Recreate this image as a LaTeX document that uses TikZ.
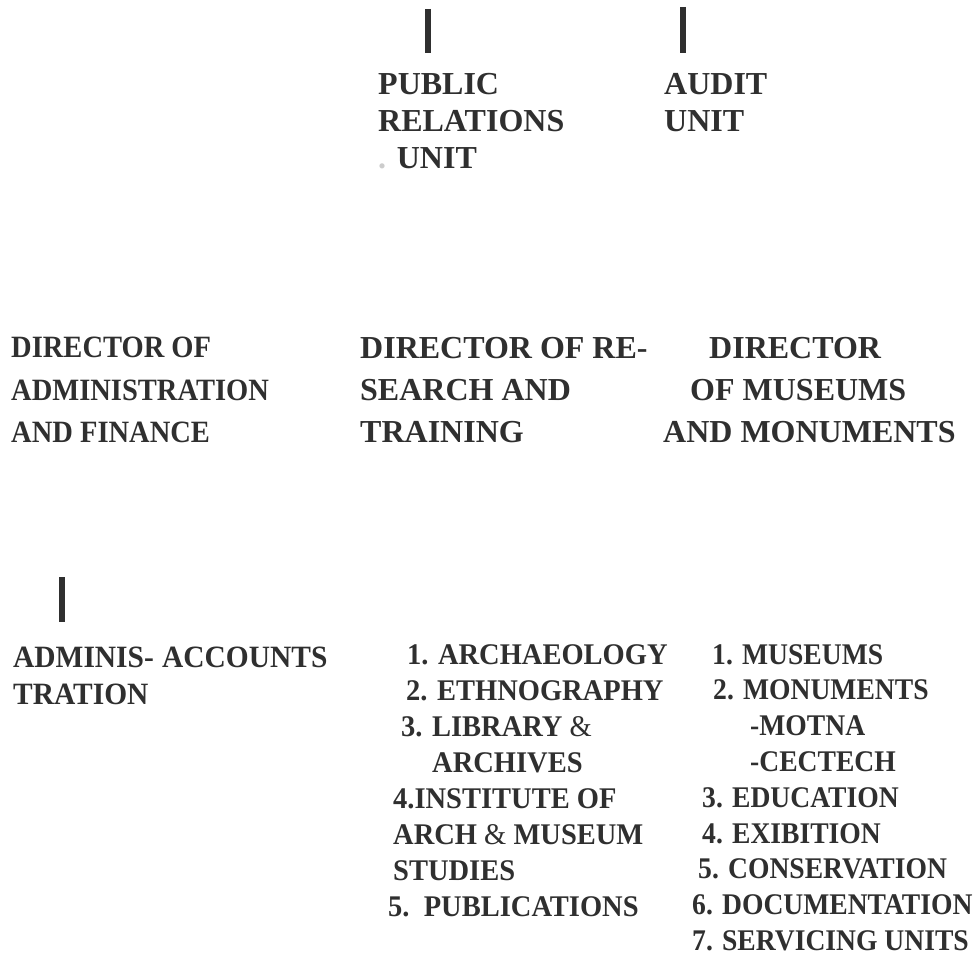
\documentclass[tikz,border=0pt]{standalone}
\usepackage{fontspec}
\setmainfont{Liberation Serif}
\newfontfamily\slimserif{Liberation Serif}[FakeStretch=0.95]
\newfontfamily\narrowserif{Liberation Serif}[FakeStretch=0.92]
\usepackage{tikz}
\definecolor{inkgray}{HTML}{2F2F2F}
\definecolor{dotgray}{HTML}{CCCCCC}

\begin{document}
\begin{tikzpicture}[x=1pt,y=-1pt]
		\tikzset{every node/.style={inner sep=0pt, anchor=north west, align=left, text=inkgray},
			unit/.style={font=\bfseries\fontsize{32}{37}\selectfont},
			director/.style={font=\bfseries\fontsize{32}{42}\selectfont},
			section/.style={font=\slimserif\bfseries\fontsize{31}{36.5}\selectfont},
			stub/.style={draw=inkgray, line width=6pt}}
		\useasboundingbox (0,0) rectangle (976,955);
		% units under the head
		\node [unit] (pr) at (378,73) {PUBLIC\\RELATIONS\\{\color{dotgray}.} UNIT};
		\node [unit] (au) at (664,73) {AUDIT\\UNIT};
		\coordinate (pr stub) at (428,9);
		\coordinate (au stub) at (683,7);
		\draw [stub] (pr stub) -- ++(0,44);
		\draw [stub] (au stub) -- ++(0,46);
		% directors
		\node [director, font=\narrowserif\bfseries\fontsize{31}{42.5}\selectfont] (daf) at (11,337) {DIRECTOR OF\\ADMINISTRATION\\AND FINANCE};
		\node [director] (drt) at (360,337) {DIRECTOR OF RE-\\SEARCH AND\\TRAINING};
		\node [director] (dmm) at (663,337) {\hspace*{46pt}DIRECTOR\\\hspace*{27pt}OF MUSEUMS\\AND MONUMENTS};
		% sections
		\node [section] (adm) at (13,647) {ADMINIS-\\TRATION};
		\node [section] (acc) at (162,647) {ACCOUNTS};
		\coordinate (adm stub) at (62,577);
		\draw [stub] (adm stub) -- ++(0,45);
		\node [section, font=\slimserif\bfseries\fontsize{30}{36}\selectfont] (rt list) at (388,644)
			{\hspace*{19pt}1. ARCHAEOLOGY\\\hspace*{18pt}2. ETHNOGRAPHY\\\hspace*{13pt}3. LIBRARY {\mdseries\&}\\\hspace*{44pt}ARCHIVES\\
			\hspace*{5pt}4.INSTITUTE OF\\\hspace*{5pt}ARCH {\mdseries\&} MUSEUM\\\hspace*{5pt}STUDIES\\5.\ \ PUBLICATIONS};
		\node [section, font=\narrowserif\bfseries\fontsize{30}{35.8}\selectfont] (mm list) at (692,644)
			{\hspace*{20pt}1. MUSEUMS\\\hspace*{21pt}2. MONUMENTS\\\hspace*{58pt}-MOTNA\\\hspace*{58pt}-CECTECH\\
			\hspace*{10pt}3. EDUCATION\\\hspace*{10pt}4. EXIBITION\\\hspace*{6pt}5. CONSERVATION\\6. DOCUMENTATION\\7. SERVICING UNITS};
	\end{tikzpicture}
\end{document}
